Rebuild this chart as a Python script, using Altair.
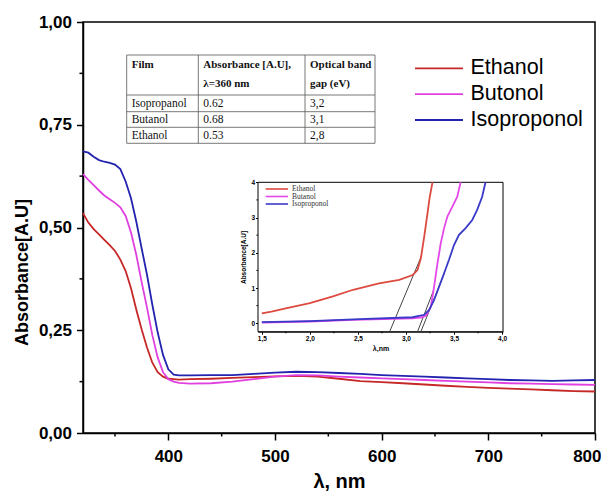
import altair as alt
import pandas as pd

# ---------------- data ----------------
series_names = ["Ethanol", "Butonol", "Isoproponol"]
series_colors = ["#c62828", "#e040e0", "#2323b0"]

wavelength = [320, 325, 330, 335, 340, 345, 350, 355, 360, 365,
              370, 375, 380, 385, 390, 395, 400, 405, 410, 420,
              440, 460, 480, 500, 520, 540, 560, 580, 600, 620,
              640, 660, 680, 700, 720, 740, 760, 780, 800]
abs_ethanol = [0.535, 0.512, 0.496, 0.483, 0.470, 0.457, 0.443, 0.422, 0.394, 0.352,
               0.300, 0.252, 0.208, 0.171, 0.148, 0.137, 0.132, 0.131, 0.130, 0.131,
               0.132, 0.134, 0.136, 0.138, 0.139, 0.137, 0.132, 0.126, 0.124, 0.121,
               0.118, 0.115, 0.112, 0.110, 0.108, 0.106, 0.104, 0.102, 0.101]
abs_butonol = [0.630, 0.616, 0.603, 0.590, 0.578, 0.569, 0.560, 0.549, 0.528, 0.488,
               0.433, 0.367, 0.305, 0.238, 0.184, 0.148, 0.131, 0.125, 0.122, 0.120,
               0.121, 0.125, 0.131, 0.137, 0.141, 0.140, 0.137, 0.135, 0.133, 0.131,
               0.129, 0.127, 0.125, 0.123, 0.121, 0.120, 0.119, 0.118, 0.117]
abs_isoproponol = [0.685, 0.682, 0.672, 0.664, 0.660, 0.657, 0.653, 0.642, 0.612, 0.571,
                   0.514, 0.449, 0.385, 0.312, 0.245, 0.190, 0.155, 0.142, 0.140, 0.140,
                   0.141, 0.141, 0.144, 0.147, 0.149, 0.148, 0.146, 0.144, 0.141, 0.139,
                   0.137, 0.135, 0.133, 0.131, 0.129, 0.128, 0.127, 0.128, 0.129]

x_major = [400, 500, 600, 700, 800]
x_minor = [350, 450, 550, 650, 750]
y_major = [0.0, 0.25, 0.5, 0.75, 1.0]
y_minor = [0.125, 0.375, 0.625, 0.875]

# inset (Tauc-type plot)
inset_names = ["Ethanol", "Butanol", "Isoproponol"]
inset_colors = ["#dc4a40", "#e448ea", "#3a3ac8"]
eth_ev = [1.50, 1.60, 1.76, 2.00, 2.24, 2.45, 2.72, 2.93, 3.07, 3.12, 3.155, 3.19, 3.224, 3.248, 3.276]
eth_abs = [0.28, 0.33, 0.43, 0.57, 0.76, 0.95, 1.13, 1.23, 1.37, 1.51, 1.84, 2.46, 3.12, 3.59, 4.00]
but_ev = [1.50, 2.00, 2.45, 3.07, 3.17, 3.21, 3.259, 3.293, 3.328, 3.362, 3.397, 3.431, 3.483, 3.534, 3.569]
but_abs = [0.02, 0.05, 0.095, 0.14, 0.17, 0.22, 0.47, 1.04, 1.70, 2.27, 2.70, 3.03, 3.31, 3.59, 4.00]
iso_ev = [1.50, 2.00, 2.45, 3.07, 3.19, 3.241, 3.293, 3.345, 3.397, 3.448, 3.50, 3.552, 3.621, 3.69, 3.741, 3.793, 3.828]
iso_abs = [0.03, 0.06, 0.11, 0.17, 0.24, 0.38, 0.66, 1.04, 1.42, 1.80, 2.22, 2.51, 2.70, 2.93, 3.22, 3.59, 4.00]
tangent_ev = [[2.83, 3.16], [3.12, 3.29], [3.155, 3.40]]
tangent_abs = [[-0.24, 1.90], [-0.24, 0.95], [-0.24, 1.42]]
inset_x_major = [1.5, 2.0, 2.5, 3.0, 3.5, 4.0]
inset_x_minor = [1.75, 2.25, 2.75, 3.25, 3.75]
inset_y_major = [0, 1, 2, 3, 4]
inset_y_minor = [0.5, 1.5, 2.5, 3.5]

# table
table_header = [["Film"], ["Absorbance [A.U],", "λ=360 nm"], ["Optical band", "gap (eV)"]]
table_film = ["Isopropanol", "Butanol", "Ethanol"]
table_absorbance = ["0.62", "0.68", "0.53"]
table_gap = ["3,2", "3,1", "2,8"]

# ---------------- layout (pixels, relative to plot area) ----------------
W, H = 512, 411
INSET_XR = [175, 420]
INSET_YR = [309.7, 160.3]
INSET_XD = [1.46, 4.01]
INSET_YD = [-0.24, 4.0]
TBL_COL = [43.7, 115.3, 222.0, 292.0]
TBL_ROW = [33.0, 73.0, 89.7, 105.3, 121.3]
TBL_HEAD_BASE = [46.3, 64.7]
TBL_ROW_BASE = [84.7, 101.3, 117.3]
TBL_DX = 5
SANS = "Liberation Sans"
SERIF = "Liberation Serif"

# ---------------- main plot ----------------
main_df = pd.DataFrame({
    "wl": wavelength * 3,
    "a": abs_ethanol + abs_butonol + abs_isoproponol,
    "series": [series_names[0]] * len(wavelength) + [series_names[1]] * len(wavelength)
              + [series_names[2]] * len(wavelength),
})

mx = alt.X("wl:Q", scale=alt.Scale(domain=[320, 800], nice=False, zero=False),
           axis=alt.Axis(values=x_major, format="d", labelFontSize=17, labelFontWeight="bold",
                         labelFont=SANS, labelFlush=True, labelFlushOffset=6, labelOverlap=False,
                         tickSize=7, tickWidth=1.5, domainWidth=1.5, labelPadding=8,
                         title="λ, nm", titleFontSize=20, titleFontWeight="bold", titleFont=SANS,
                         titleY=54, titleBaseline="alphabetic"))
my = alt.Y("a:Q", scale=alt.Scale(domain=[0, 1], nice=False, zero=False),
           axis=alt.Axis(values=y_major, labelExpr="replace(format(datum.value, '.2f'), '.', ',')",
                         labelFontSize=17, labelFontWeight="bold", labelFont=SANS, labelFlush=False,
                         tickSize=6.5, tickWidth=1.5, domainWidth=1.5, labelPadding=5,
                         title="Absorbance[A.U]", titleFontSize=18, titleFontWeight="bold",
                         titleFont=SANS, titleAngle=270, titleX=-61, titleY=250,
                         titleAlign="center", titleBaseline="middle"))

main_lines = alt.Chart(main_df).mark_line(strokeWidth=1.8).encode(
    x=mx, y=my,
    color=alt.Color("series:N", scale=alt.Scale(domain=series_names, range=series_colors), legend=None),
)
main_xminor = alt.Chart(pd.DataFrame({"wl": x_minor})).mark_rule(color="black", strokeWidth=1.5).encode(
    x=mx, y=alt.value(H), y2=alt.value(H + 3.5))
main_yminor = alt.Chart(pd.DataFrame({"a": y_minor})).mark_rule(color="black", strokeWidth=1.5).encode(
    y=my, x=alt.value(-3.5), x2=alt.value(0))
main = alt.layer(main_lines, main_xminor, main_yminor)

# ---------------- inset ----------------
inset_df = pd.DataFrame({
    "e": eth_ev + but_ev + iso_ev,
    "v": eth_abs + but_abs + iso_abs,
    "s": [inset_names[0]] * len(eth_ev) + [inset_names[1]] * len(but_ev) + [inset_names[2]] * len(iso_ev),
})
tan_rows = []
for i, (xs, ys) in enumerate(zip(tangent_ev, tangent_abs)):
    for xv, yv in zip(xs, ys):
        tan_rows.append({"e": xv, "v": yv, "id": i})
tan_df = pd.DataFrame(tan_rows)

ix = alt.X("e:Q", scale=alt.Scale(domain=INSET_XD, range=INSET_XR, nice=False, zero=False),
           axis=alt.Axis(orient="bottom", offset=-(H - INSET_YR[0]), values=inset_x_major,
                         labelExpr="replace(format(datum.value, '.1f'), '.', ',')",
                         labelFontSize=6.5, labelFontWeight="bold", labelFont=SANS, labelFlush=False,
                         tickSize=2.5, tickWidth=1, domainWidth=1, labelPadding=1,
                         title="λ,nm", titleFontSize=7, titleFontWeight="bold", titleFont=SANS,
                         titlePadding=3))
iy = alt.Y("v:Q", scale=alt.Scale(domain=INSET_YD, range=INSET_YR, nice=False, zero=False),
           axis=alt.Axis(orient="left", offset=-INSET_XR[0], values=inset_y_major, format="d",
                         labelFontSize=6.5, labelFontWeight="bold", labelFont=SANS, labelFlush=False,
                         tickSize=2.5, tickWidth=1, domainWidth=1, labelPadding=1,
                         title="Absorbance[A.U]", titleFontSize=6.5, titleFontWeight="bold",
                         titleFont=SANS, titlePadding=4))

frame_df = pd.DataFrame({"e": [INSET_XD[0]], "e2": [INSET_XD[1]], "v": [INSET_YD[0]], "v2": [INSET_YD[1]]})
inset_frame = alt.Chart(frame_df).mark_rect(fill="white", stroke="black", strokeWidth=1).encode(
    x=ix, x2="e2:Q", y=iy, y2="v2:Q")
inset_lines = alt.Chart(inset_df).mark_line(strokeWidth=1.8).encode(
    x=ix, y=iy,
    color=alt.Color("s:N", scale=alt.Scale(domain=inset_names, range=inset_colors), legend=None),
)
inset_tan = alt.Chart(tan_df).mark_line(color="#444444", strokeWidth=1).encode(
    x=ix, y=iy, detail="id:N")
inset_xminor = alt.Chart(pd.DataFrame({"e": inset_x_minor})).mark_rule(color="black", strokeWidth=1).encode(
    x=ix, y=alt.value(INSET_YR[0]), y2=alt.value(INSET_YR[0] + 1.6))
inset_yminor = alt.Chart(pd.DataFrame({"v": inset_y_minor})).mark_rule(color="black", strokeWidth=1).encode(
    y=iy, x=alt.value(INSET_XR[0] - 1.6), x2=alt.value(INSET_XR[0]))
inset = alt.layer(inset_frame, inset_tan, inset_lines, inset_xminor, inset_yminor)

# ---------------- legends ----------------
leg_df = pd.DataFrame({"series": series_names})
leg_y = alt.Y("series:N", sort=series_names,
              scale=alt.Scale(type="point", domain=series_names, range=[46.3, 98], padding=0), axis=None)
leg_color = alt.Color("series:N", scale=alt.Scale(domain=series_names, range=series_colors), legend=None)
legend_main = alt.layer(
    alt.Chart(leg_df).mark_rule(strokeWidth=1.8).encode(
        x=alt.value(332), x2=alt.value(380), y=leg_y, color=leg_color),
    alt.Chart(leg_df).mark_text(align="left", baseline="middle", font=SANS, fontSize=21.5, color="black").encode(
        x=alt.value(387.5), y=leg_y, text="series:N"),
)

ileg_df = pd.DataFrame({"s": inset_names})
ileg_y = alt.Y("s:N", sort=inset_names,
               scale=alt.Scale(type="point", domain=inset_names, range=[167, 182], padding=0), axis=None)
ileg_color = alt.Color("s:N", scale=alt.Scale(domain=inset_names, range=inset_colors), legend=None)
legend_inset = alt.layer(
    alt.Chart(ileg_df).mark_rule(strokeWidth=1.6).encode(
        x=alt.value(182.7), x2=alt.value(205), y=ileg_y, color=ileg_color),
    alt.Chart(ileg_df).mark_text(align="left", baseline="middle", font=SERIF, fontSize=7.5,
                                 color="#333333").encode(x=alt.value(209), y=ileg_y, text="s:N"),
)

# ---------------- table ----------------
rule_rows = []
for yv in TBL_ROW:
    rule_rows.append({"x": TBL_COL[0], "x2": TBL_COL[-1], "y": yv, "y2": yv})
for xv in TBL_COL:
    rule_rows.append({"x": xv, "x2": xv, "y": TBL_ROW[0], "y2": TBL_ROW[-1]})
rule_df = pd.DataFrame(rule_rows)

head_rows = []
for c, lines in enumerate(table_header):
    for k, t in enumerate(lines):
        head_rows.append({"x": TBL_COL[c] + TBL_DX, "y": TBL_HEAD_BASE[k], "t": t})
head_df = pd.DataFrame(head_rows)

cell_rows = []
for r in range(len(table_film)):
    for c, col in enumerate([table_film, table_absorbance, table_gap]):
        cell_rows.append({"x": TBL_COL[c] + TBL_DX, "y": TBL_ROW_BASE[r], "t": col[r]})
cell_df = pd.DataFrame(cell_rows)

px = alt.Scale(domain=[0, W], range=[0, W], nice=False, zero=False)
py = alt.Scale(domain=[0, H], range=[0, H], nice=False, zero=False)
table = alt.layer(
    alt.Chart(rule_df).mark_rule(color="#555555", strokeWidth=0.8).encode(
        x=alt.X("x:Q", scale=px, axis=None), x2="x2:Q",
        y=alt.Y("y:Q", scale=py, axis=None), y2="y2:Q"),
    alt.Chart(head_df).mark_text(align="left", baseline="alphabetic", font=SERIF, fontSize=11,
                                 fontWeight="bold", color="#111111").encode(
        x=alt.X("x:Q", scale=px, axis=None), y=alt.Y("y:Q", scale=py, axis=None), text="t:N"),
    alt.Chart(cell_df).mark_text(align="left", baseline="alphabetic", font=SERIF, fontSize=11.5,
                                 color="#111111").encode(
        x=alt.X("x:Q", scale=px, axis=None), y=alt.Y("y:Q", scale=py, axis=None), text="t:N"),
)

chart = alt.layer(main, inset, legend_main, legend_inset, table).resolve_scale(
    x="independent", y="independent", color="independent"
).properties(
    width=W, height=H,
    autosize=alt.AutoSizeParams(type="none"),
    padding={"left": 75, "top": 14, "right": 6, "bottom": 59},
).configure_view(
    stroke="black", strokeWidth=1.5
).configure_axis(
    grid=False, domainColor="black", tickColor="black", labelColor="black", titleColor="black"
)

chart.save("out.html", embed_options={"renderer": "svg", "actions": False})
